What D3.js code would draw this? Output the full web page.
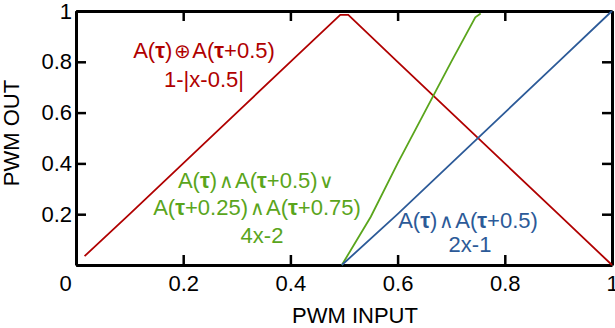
<!DOCTYPE html>
<html>
<head>
<meta charset="utf-8">
<script src="https://cdn.jsdelivr.net/npm/d3@7"></script>
<style>
  body { margin: 0; background: #fff; }
  svg text { font-family: "Liberation Sans", Arial, sans-serif; }
</style>
</head>
<body>
<div class="chart-container"></div>
<script>
// values
const redX = [0.016, 0.1, 0.2, 0.3, 0.4, 0.493, 0.508, 0.6, 0.7, 0.8, 0.9, 1.0];
const redY = [0.035, 0.2, 0.4, 0.6, 0.8, 0.985, 0.985, 0.8, 0.6, 0.4, 0.2, 0.0];
const greenX = [0.496, 0.55, 0.6, 0.65, 0.7, 0.745, 0.755];
const greenY = [0.0, 0.19, 0.4, 0.6, 0.8, 0.975, 0.99];
const blueX = [0.496, 0.6, 0.7, 0.8, 0.9, 1.0];
const blueY = [0.0, 0.2, 0.4, 0.6, 0.8, 1.0];
const xTicks = [0, 0.2, 0.4, 0.6, 0.8, 1];
const yTicks = [0, 0.2, 0.4, 0.6, 0.8, 1];

const margin = { top: 11, right: 3, bottom: 63, left: 76 },
      width = 615 - margin.left - margin.right,
      height = 328 - margin.top - margin.bottom;

const RED = "#b00000", GREEN = "#5aa51c", BLUE = "#2c5a98";

const svg = d3.select(".chart-container").append("svg")
    .attr("width", 615)
    .attr("height", 328)
    .append("g")
    .attr("transform", "translate(" + margin.left + "," + margin.top + ")");

const x = d3.scaleLinear().domain([0, 1]).range([0, width]);
const y = d3.scaleLinear().domain([0, 1]).range([height, 0]);

const fmt = d => d === 0 ? "0" : d3.format("")(d);

// bottom axis, ticks pointing in
const gx = svg.append("g")
    .attr("transform", "translate(0," + height + ")")
    .call(d3.axisBottom(x).tickValues(xTicks).tickFormat(fmt)
        .tickSizeInner(-10).tickSizeOuter(0).tickPadding(10));
gx.selectAll("text").filter(d => d === 0).attr("dx", -11);

const gy = svg.append("g")
    .call(d3.axisLeft(y).tickValues(yTicks).tickFormat(d => d === 0 ? "" : fmt(d))
        .tickSizeInner(-10).tickSizeOuter(0).tickPadding(4));

svg.append("g")
    .call(d3.axisTop(x).tickValues(xTicks).tickFormat("")
        .tickSizeInner(-10).tickSizeOuter(0));

svg.append("g")
    .attr("transform", "translate(" + width + ",0)")
    .call(d3.axisRight(y).tickValues(yTicks).tickFormat("")
        .tickSizeInner(-10).tickSizeOuter(0));

svg.selectAll(".domain").attr("stroke", "#000").attr("stroke-width", 3);
svg.selectAll(".tick line").attr("stroke", "#000").attr("stroke-width", 2.5);
svg.selectAll(".tick text").attr("font-size", 22).attr("fill", "#000")
    .attr("font-family", "Liberation Sans, Arial, sans-serif");

// axis titles
svg.append("text")
    .attr("x", width / 2 + 11)
    .attr("y", height + 58)
    .attr("text-anchor", "middle")
    .attr("font-size", 22)
    .text("PWM INPUT");

svg.append("text")
    .attr("transform", "translate(" + (-57) + "," + (height / 2 - 5) + ") rotate(-90)")
    .attr("text-anchor", "middle")
    .attr("font-size", 22)
    .text("PWM OUT");

const line = d3.line().x(d => x(d[0])).y(d => y(d[1]));

function drawSeries(xs, ys, color) {
    svg.append("path")
        .datum(xs.map((v, i) => [v, ys[i]]))
        .attr("d", line)
        .attr("fill", "none")
        .attr("stroke", color)
        .attr("stroke-width", 1.8);
}

drawSeries(redX, redY, RED);
drawSeries(greenX, greenY, GREEN);
drawSeries(blueX, blueY, BLUE);

// annotations: each part is [text, kind] with kind 0 plain, 1 bold tau, 2 operator
function label(cx, by, parts, color) {
    const t = svg.append("text")
        .attr("x", cx - margin.left)
        .attr("y", by - margin.top)
        .attr("text-anchor", "middle")
        .attr("font-size", 22)
        .attr("fill", color);
    let gap = false;
    parts.forEach(p => {
        const s = t.append("tspan").text(p[0]);
        if (p[1] === 1) s.attr("font-weight", "bold");
        if (p[1] === 2) s.attr("font-family", "DejaVu Sans").attr("font-weight", 200)
            .attr("font-size", 20).attr("dx", 1.5);
        if (gap) s.attr("dx", 1.5);
        gap = p[1] === 2;
    });
}

label(204, 58, [["A(", 0], ["τ", 1], [")", 0], ["⊕", 2], ["A(", 0], ["τ", 1], ["+0.5)", 0]], RED);
label(204, 87, [["1-|x-0.5|", 0]], RED);

label(256, 188, [["A(", 0], ["τ", 1], [")", 0], ["∧", 2], ["A(", 0], ["τ", 1], ["+0.5)", 0], ["∨", 2]], GREEN);
label(257, 215, [["A(", 0], ["τ", 1], ["+0.25)", 0], ["∧", 2], ["A(", 0], ["τ", 1], ["+0.75)", 0]], GREEN);
label(262, 243, [["4x-2", 0]], GREEN);

label(468, 228, [["A(", 0], ["τ", 1], [")", 0], ["∧", 2], ["A(", 0], ["τ", 1], ["+0.5)", 0]], BLUE);
label(470, 252, [["2x-1", 0]], BLUE);
</script>
</body>
</html>
